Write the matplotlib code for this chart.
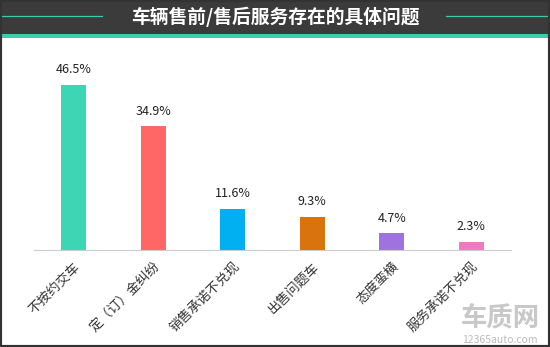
import matplotlib.pyplot as plt
from matplotlib.patches import Rectangle
from matplotlib.lines import Line2D

plt.rcParams['font.family'] = ['Noto Sans CJK SC', 'DejaVu Sans']

title = '车辆售前/售后服务存在的具体问题'
categories = ['不按约交车', '定（订）金纠纷', '销售承诺不兑现', '出售问题车', '态度蛮横', '服务承诺不兑现']
values = [46.5, 34.9, 11.6, 9.3, 4.7, 2.3]
colors = ['#3dd6b5', '#ff6666', '#00b0f0', '#d9730d', '#9e73e0', '#f07abf']

fig = plt.figure(figsize=(5.5, 3.47), dpi=100)

# header band with the title
fig.patches.append(Rectangle((0, 1 - 34 / 347), 1, 34 / 347, transform=fig.transFigure,
                             facecolor='#3b3b3b', edgecolor='none', zorder=0))
fig.patches.append(Rectangle((0, 1 - 38 / 347), 1, 4 / 347, transform=fig.transFigure,
                             facecolor='#3cccae', edgecolor='none', zorder=1))
for x0, x1 in [(2 / 550, 102 / 550), (446 / 550, 548 / 550)]:
    fig.lines.append(Line2D([x0, x1], [1 - 16 / 347] * 2, transform=fig.transFigure,
                            color='#3cccae', lw=0.9))
fig.text(275 / 550, 1 - 17 / 347, title, ha='center', va='center', color='white',
         fontsize=13.5, fontweight='bold')

# outer border
fig.patches.append(Rectangle((0, 0), 1, 1, transform=fig.transFigure, facecolor='none',
                             edgecolor='#333333', lw=3, zorder=5))

ax = fig.add_axes([34 / 550, 1 - 250 / 347, 477 / 550, 177.5 / 347])
x = list(range(len(values)))
ax.bar(x, values, width=0.31, color=colors)
for xi, v in zip(x, values):
    ax.text(xi, v + 2.4, f'{v}%', ha='center', va='bottom', fontsize=9, color='#222222')

ax.set_xlim(-0.5, 5.5)
ax.set_ylim(0, 50)
for s in ['top', 'right', 'left']:
    ax.spines[s].set_visible(False)
ax.spines['bottom'].set_color('#cccccc')
ax.set_yticks([])
ax.set_xticks(x)
ax.set_xticklabels(categories, rotation=45, ha='right', rotation_mode='anchor',
                   fontsize=9.5, color='#333333')
ax.tick_params(axis='x', length=0, pad=7)

# watermark
fig.text(500 / 550, 1 - 319 / 347, '车质网', ha='center', va='center', fontsize=19,
         fontweight='bold', color='#c8c8c8')
fig.text(500 / 550, 1 - 340 / 347, '12365auto.com', ha='center', va='center', fontsize=7.5,
         color='#bbbbbb')

fig.savefig('out.png', dpi=100)
